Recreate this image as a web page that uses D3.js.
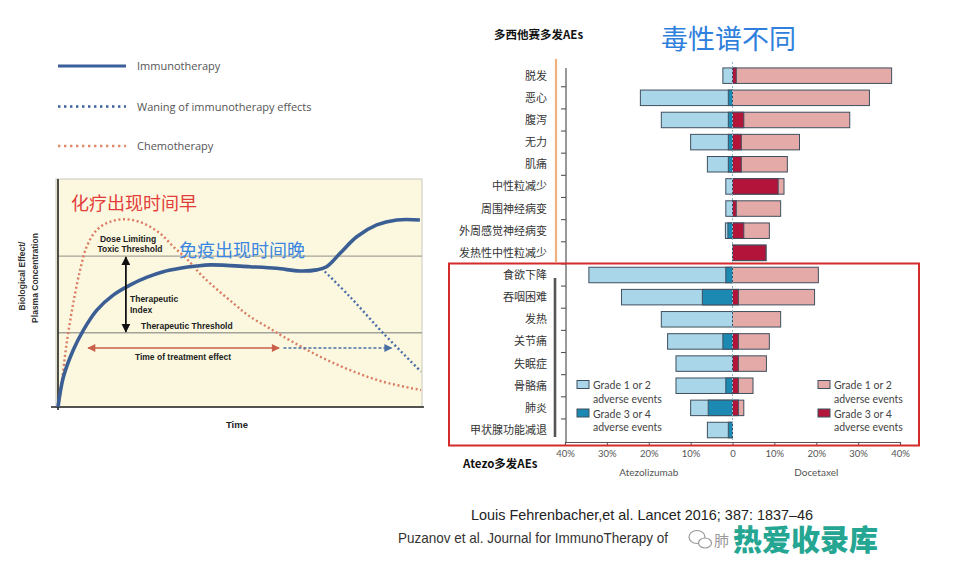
<!DOCTYPE html>
<html><head><meta charset="utf-8">
<script src="https://cdn.jsdelivr.net/npm/d3@7"></script>
<style>body{margin:0;background:#fff} svg{display:block}</style>
</head><body>
<svg id="c" width="959" height="567"></svg>
<script>
// ===== Left schematic data (time 0-100, effect 0-100) =====
const immunoCurve = [[0,0],[1.5,13.3],[4.2,25.1],[7,33.9],[10.7,42.7],[15.2,49.3],[19.8,53.7],[24.4,57.1],[29,59.6],[33.6,61.1],[38.2,62.1],[41.9,62.6],[52.9,61.8],[60.2,61.1],[66.7,59.9],[71.3,60.4],[74,61.8],[77.7,67.7],[82.3,75],[87.8,80.2],[93.3,82.4],[99.7,82.4]];
const chemoCurve = [[0,0],[1,10.4],[1.9,22.2],[2.8,32.5],[4.2,45.7],[6.1,60.4],[7.9,70.6],[10.7,78],[14.3,81.6],[18.9,82.7],[23.5,80.9],[28.1,76.5],[31.8,70.6],[35.5,65.2],[40,57.3],[48.3,45.7],[52.9,39.8],[57.5,35.4],[62.1,31],[71.3,22.9],[80.4,16.3],[89.6,11.1],[100,7.5]];
const waningCurve = [[72.6,61.1],[80.4,48.6],[89.6,32.5],[100,15.6]];
const toxicThreshold = 66.5;
const therapeuticThreshold = 32.7;
const indexArrowTime = 18.7;
const treatmentSpan = [8.3, 60.9];
const waningSpan = [62.1, 91.9];
const treatmentLevel = 26;
const legendLabels = ["Immunotherapy","Waning of immunotherapy effects","Chemotherapy"];

// ===== Right AE chart data (% of patients) =====
const categories = ["脱发","恶心","腹泻","无力","肌痛","中性粒减少","周围神经病变","外周感觉神经病变","发热性中性粒减少","食欲下降","吞咽困难","发热","关节痛","失眠症","骨骼痛","肺炎","甲状腺功能减退"];
const atezoAll = [2.3,22,17,10,6,1.6,1.6,1.7,0,34.3,26.5,17,15.5,13.5,13.5,10,6];
const atezoG34 = [0,1,1,1,1,0,0,1.1,0,1.6,7.2,0,2.3,0,1.6,5.8,1];
const doceAll  = [38,32.7,28,16,13.1,12.3,11.5,8.8,8,20.5,19.6,11.5,8.8,8.1,4.9,2.7,0];
const doceG34  = [0.9,0,2.7,2.1,2.1,10.9,0.9,2.7,8,0,1.4,0,1.4,1.4,1.4,1.4,0];
const tickValues = [-40,-30,-20,-10,0,10,20,30,40];
const aeLegend = ["Grade 1 or 2","adverse events","Grade 3 or 4","adverse events"];

const svg = d3.select("#c");
const defs = svg.append("defs");
function marker(id, color, w, h){
  defs.append("marker").attr("id",id).attr("viewBox","0 0 10 10").attr("refX",9).attr("refY",5)
    .attr("markerWidth",w).attr("markerHeight",h).attr("markerUnits","userSpaceOnUse").attr("orient","auto-start-reverse")
    .append("path").attr("d","M0,0L10,5L0,10z").attr("fill",color);
}
marker("mBlack","#111",9,9);
marker("mRed","#c8604a",9,8);
marker("mBlue","#4a6fa5",9,8);

// ===== LEFT =====
const L = svg.append("g");
const xL = d3.scaleLinear().domain([0,100]).range([58,421]);
const yL = d3.scaleLinear().domain([0,100]).range([407,180]);

// legend
const legY = [66,106.5,146];
L.append("line").attr("x1",58).attr("x2",126).attr("y1",legY[0]).attr("y2",legY[0]).attr("stroke","#3a5f9a").attr("stroke-width",3.2);
L.append("line").attr("x1",58).attr("x2",126).attr("y1",legY[1]).attr("y2",legY[1]).attr("stroke","#3a5f9a").attr("stroke-width",2.6).attr("stroke-dasharray","2.4,3.6");
L.append("line").attr("x1",58).attr("x2",126).attr("y1",legY[2]).attr("y2",legY[2]).attr("stroke","#e08a6a").attr("stroke-width",2.6).attr("stroke-dasharray","2.4,3.6");
legendLabels.forEach((t,i)=>L.append("text").attr("x",137).attr("y",legY[i]+4).text(t)
  .attr("font-family","Open Sans").attr("font-size",11).attr("fill","#555"));

// plot box
L.append("rect").attr("x",56).attr("y",179).attr("width",366).attr("height",228).attr("fill","#fbf8df").attr("stroke","#c9c8bc").attr("stroke-width",1);
// thresholds
[toxicThreshold, therapeuticThreshold].forEach(v=>L.append("line").attr("x1",xL(0)).attr("x2",xL(100)+1)
  .attr("y1",yL(v)).attr("y2",yL(v)).attr("stroke","#a3a39a").attr("stroke-width",1.3));
// axes
L.append("line").attr("x1",xL(0)).attr("x2",xL(0)).attr("y1",179).attr("y2",410).attr("stroke","#222").attr("stroke-width",1.6);
L.append("line").attr("x1",51).attr("x2",424).attr("y1",yL(0)).attr("y2",yL(0)).attr("stroke","#222").attr("stroke-width",1.6);

const lineGenC = d3.line().x(d=>xL(d[0])).y(d=>yL(d[1])).curve(d3.curveCatmullRom.alpha(0.5));
L.append("path").attr("d",lineGenC(chemoCurve)).attr("fill","none").attr("stroke","#d97c62").attr("stroke-width",2.4).attr("stroke-dasharray","2,2.6");
L.append("path").attr("d",lineGenC(waningCurve)).attr("fill","none").attr("stroke","#4a6ea8").attr("stroke-width",2.4).attr("stroke-dasharray","2,2.6");
L.append("path").attr("d",lineGenC(immunoCurve)).attr("fill","none").attr("stroke","#3b5e94").attr("stroke-width",3.6);

// arrows
L.append("line").attr("x1",xL(indexArrowTime)).attr("x2",xL(indexArrowTime)).attr("y1",yL(toxicThreshold)+1).attr("y2",yL(therapeuticThreshold)-1)
  .attr("stroke","#111").attr("stroke-width",1.8).attr("marker-start","url(#mBlack)").attr("marker-end","url(#mBlack)");
L.append("line").attr("x1",xL(treatmentSpan[0])).attr("x2",xL(treatmentSpan[1])).attr("y1",yL(treatmentLevel)).attr("y2",yL(treatmentLevel))
  .attr("stroke","#c8604a").attr("stroke-width",1.5).attr("marker-start","url(#mRed)").attr("marker-end","url(#mRed)");
L.append("line").attr("x1",xL(waningSpan[0])).attr("x2",xL(waningSpan[1])).attr("y1",yL(treatmentLevel)).attr("y2",yL(treatmentLevel))
  .attr("stroke","#4a6fa5").attr("stroke-width",1.5).attr("stroke-dasharray","3,2").attr("marker-end","url(#mBlue)");

// annotations
const annB = (x,y,t,anchor,size)=>L.append("text").attr("x",x).attr("y",y).text(t).attr("text-anchor",anchor||"start")
  .attr("font-family","Liberation Sans, Arial").attr("font-weight","bold").attr("font-size",size||8.5).attr("fill","#222");
annB(128,242,"Dose Limiting","middle");
annB(130,252,"Toxic Threshold","middle");
annB(130,302,"Therapeutic");
annB(130,312.5,"Index");
annB(141,328.5,"Therapeutic Threshold");
annB(183,360,"Time of treatment effect","middle");
annB(237,427.5,"Time","middle",9.5);
L.append("text").attr("transform","translate(25,276) rotate(-90)").attr("text-anchor","middle").text("Biological Effect/")
  .attr("font-family","Liberation Sans, Arial").attr("font-weight","bold").attr("font-size",8.5).attr("fill","#333");
L.append("text").attr("transform","translate(38,278) rotate(-90)").attr("text-anchor","middle").text("Plasma Concentration")
  .attr("font-family","Liberation Sans, Arial").attr("font-weight","bold").attr("font-size",8.5).attr("fill","#333");
L.append("text").attr("x",71).attr("y",210).text("化疗出现时间早").attr("font-family","Noto Sans CJK SC").attr("font-size",18).attr("fill","#e23d3a");
L.append("text").attr("x",179).attr("y",256.5).text("免疫出现时间晚").attr("font-family","Noto Sans CJK SC").attr("font-size",18).attr("fill","#3a86e0");

// ===== RIGHT =====
const R = svg.append("g");
const xR = d3.scaleLinear().domain([-40,40]).range([565,900]);
const yR = d3.scaleBand().domain(categories).range([64.6,441.1]).paddingInner(0.3).paddingOuter(0.15);
const bw = yR.bandwidth();

R.append("text").attr("x",494).attr("y",39).text("多西他赛多发AEs").attr("font-family","Noto Sans CJK SC").attr("font-weight","bold").attr("font-size",11.5).attr("fill","#111");
R.append("text").attr("x",661).attr("y",49).text("毒性谱不同").attr("font-family","Noto Sans CJK SC").attr("font-size",27).attr("fill","#2f80dc");
R.append("text").attr("x",463).attr("y",467.5).text("Atezo多发AEs").attr("font-family","Noto Sans CJK SC").attr("font-weight","bold").attr("font-size",11.5).attr("fill","#111");

// side lines
R.append("line").attr("x1",556).attr("x2",556).attr("y1",59).attr("y2",262).attr("stroke","#f0b07c").attr("stroke-width",2.2);
R.append("line").attr("x1",555).attr("x2",555).attr("y1",278).attr("y2",437).attr("stroke","#555").attr("stroke-width",2.6);
// category axis line with boundary ticks
R.append("line").attr("x1",566).attr("x2",566).attr("y1",68).attr("y2",442).attr("stroke","#555").attr("stroke-width",1.2);
categories.slice(1).forEach(c=>{
  const yy = yR(c) - yR.step()*yR.paddingInner()/2;
  R.append("line").attr("x1",561).attr("x2",566).attr("y1",yy).attr("y2",yy).attr("stroke","#555").attr("stroke-width",1.1);
});
// labels
categories.forEach(c=>R.append("text").attr("x",547).attr("y",yR(c)+bw/2+4).attr("text-anchor","end").text(c)
  .attr("font-family","Noto Sans CJK SC").attr("font-size",11).attr("fill","#333"));

// bars
const strokeC = "#3f4f5f";
categories.forEach((c,i)=>{
  const y0 = yR(c);
  const segs = [];
  if (atezoAll[i]>0) segs.push([-atezoAll[i],0,"#a9d6e8"]);
  if (atezoG34[i]>0) segs.push([-atezoG34[i],0,"#1c89b3"]);
  if (doceAll[i]>0) segs.push([0,doceAll[i],"#e3aaa8"]);
  if (doceG34[i]>0) segs.push([0,doceG34[i],"#b3143a"]);
  segs.forEach(s=>R.append("rect").attr("x",xR(s[0])).attr("y",y0).attr("width",xR(s[1])-xR(s[0])).attr("height",bw)
    .attr("fill",s[2]).attr("stroke",strokeC).attr("stroke-width",1));
});
// zero dotted line
R.append("line").attr("x1",xR(0)).attr("x2",xR(0)).attr("y1",62).attr("y2",442).attr("stroke","#8fb3c8").attr("stroke-width",1).attr("stroke-dasharray","2,2");

// x axis
const ax = R.append("g").attr("transform","translate(0,442)")
  .call(d3.axisBottom(xR).tickValues(tickValues).tickSize(3).tickPadding(5).tickFormat(d=>d===0?"0":Math.abs(d)+"%"));
ax.select(".domain").attr("stroke","#555").attr("stroke-width",1.2);
ax.selectAll(".tick line").attr("stroke","#555");
ax.selectAll("text").attr("font-family","Lato").attr("font-size",9.5).attr("fill","#555");
R.append("text").attr("x",xR(-20)).attr("y",476).attr("text-anchor","middle").text("Atezolizumab").attr("font-family","Lato").attr("font-size",10).attr("fill","#555");
R.append("text").attr("x",xR(20)).attr("y",476).attr("text-anchor","middle").text("Docetaxel").attr("font-family","Lato").attr("font-size",10).attr("fill","#555");

// legend within chart
function aeLeg(x, c1, c2){
  R.append("rect").attr("x",x).attr("y",380.5).attr("width",12).attr("height",8).attr("fill",c1).attr("stroke",strokeC);
  R.append("rect").attr("x",x).attr("y",409).attr("width",12).attr("height",8).attr("fill",c2).attr("stroke",strokeC);
  const ys=[389,402.5,417.5,431];
  aeLegend.forEach((t,i)=>R.append("text").attr("x",x+16).attr("y",ys[i]).text(t).attr("font-family","Lato").attr("font-size",10.5).attr("fill","#444"));
}
aeLeg(577,"#a9d6e8","#1c89b3");
aeLeg(818,"#e3aaa8","#b3143a");

// red highlight rectangle
R.append("rect").attr("x",449).attr("y",263.5).attr("width",470).attr("height",182).attr("fill","none").attr("stroke","#d42b2b").attr("stroke-width",2);

// ===== bottom references =====
svg.append("text").attr("x",471).attr("y",520).text("Louis Fehrenbacher,et  al. Lancet 2016; 387: 1837–46")
  .attr("font-family","Liberation Sans, Arial").attr("font-size",15).attr("fill","#222").attr("textLength",342).attr("lengthAdjust","spacingAndGlyphs");
svg.append("text").attr("x",398).attr("y",543).text("Puzanov  et al. Journal for ImmunoTherapy  of")
  .attr("font-family","Liberation Sans, Arial").attr("font-size",15).attr("fill","#333").attr("textLength",270).attr("lengthAdjust","spacingAndGlyphs");
// watermark
const wm = svg.append("g");
wm.append("ellipse").attr("cx",697).attr("cy",537).attr("rx",8).attr("ry",6.5).attr("fill","none").attr("stroke","#999").attr("stroke-width",1.2);
wm.append("ellipse").attr("cx",705).attr("cy",543).attr("rx",6.5).attr("ry",5).attr("fill","#fff").attr("stroke","#999").attr("stroke-width",1.2);
wm.append("text").attr("x",714).attr("y",546).text("肺").attr("font-family","Noto Sans CJK SC").attr("font-size",15).attr("fill","#999");
wm.append("text").attr("x",733).attr("y",551).text("热爱收录库").attr("font-family","Noto Sans CJK SC").attr("font-weight","900").attr("font-size",29).attr("fill","#25a693");
</script>
</body></html>
